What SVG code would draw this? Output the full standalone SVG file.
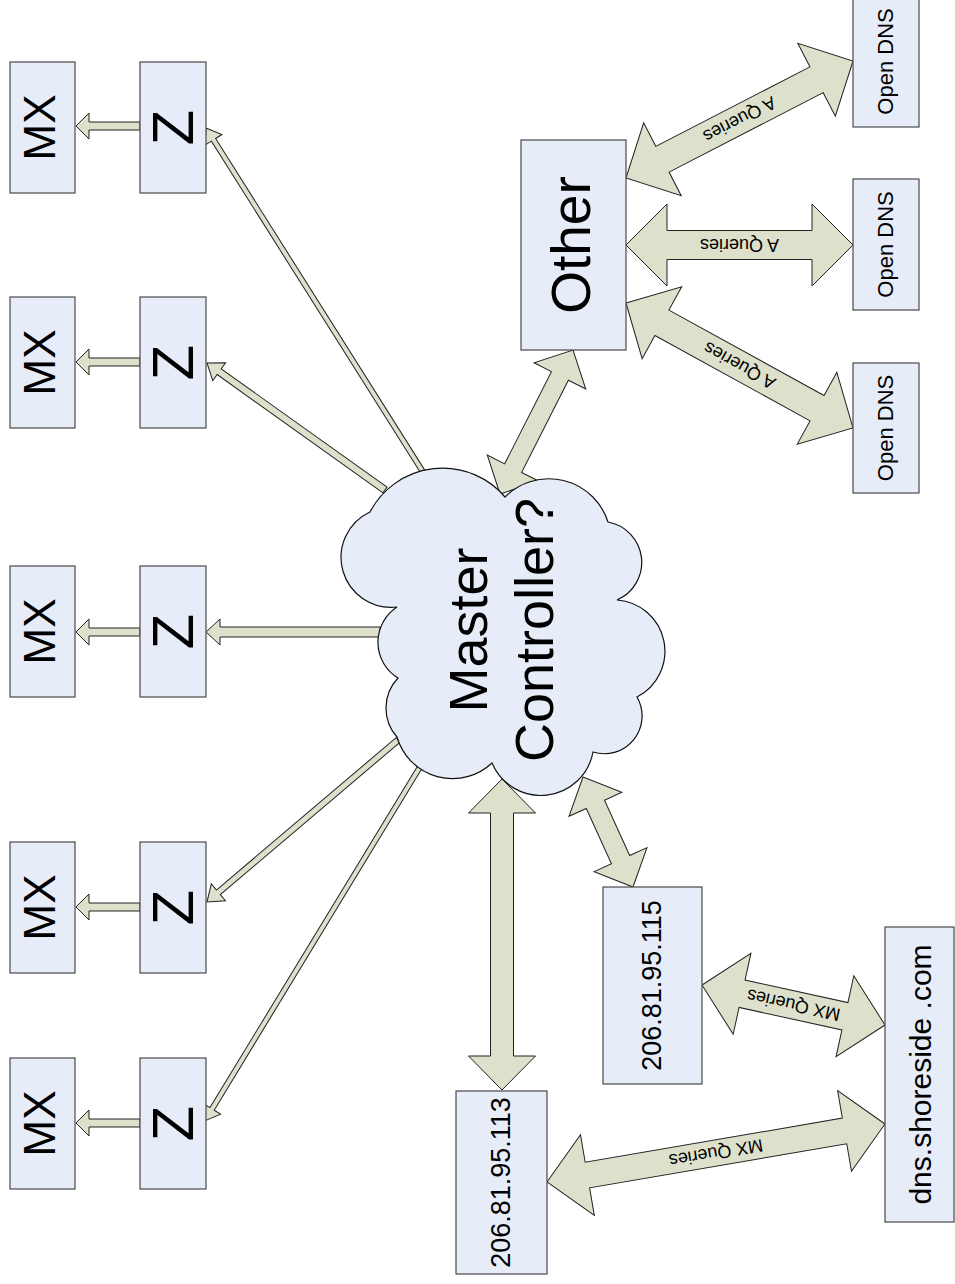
<svg xmlns="http://www.w3.org/2000/svg" xmlns:xlink="http://www.w3.org/1999/xlink" width="955" height="1284" viewBox="0 0 955 1284">
<style>
.box{fill:#e6ecf8;stroke:#4a4a4a;stroke-width:1.2}
.cloud{fill:#e6ecf8;stroke:#111;stroke-width:1.2}
.arr{fill:#dde0cb;stroke:#222;stroke-width:1}
text{font-family:"Liberation Sans",Arial,sans-serif;fill:#000}
.lbl{font-size:18px;text-anchor:middle}
.mid{text-anchor:middle}
</style>
<defs>
<polygon id="mxarrow" class="arr" points="0,-4 51,-4 51,-13 64,0 51,13 51,4 0,4"/>
</defs>
<rect width="955" height="1284" fill="#fff"/>
<g id="connectors">
<use xlink:href="#mxarrow" href="#mxarrow" transform="translate(140,126) rotate(180)"/>
<use xlink:href="#mxarrow" href="#mxarrow" transform="translate(140,362) rotate(180)"/>
<use xlink:href="#mxarrow" href="#mxarrow" transform="translate(140,632) rotate(180)"/>
<use xlink:href="#mxarrow" href="#mxarrow" transform="translate(140,907) rotate(180)"/>
<use xlink:href="#mxarrow" href="#mxarrow" transform="translate(140,1123) rotate(180)"/>
<polygon class="arr" transform="translate(423,472) rotate(-122.24)" points="0,-2.5 392.7,-2.5 392.7,-10 406.7,0 392.7,10 392.7,2.5 0,2.5"/>
<polygon class="arr" transform="translate(385,490) rotate(-144.5)" points="0,-3.5 203.7,-3.5 203.7,-11 218.7,0 203.7,11 203.7,3.5 0,3.5"/>
<polygon class="arr" transform="translate(380,632) rotate(180)" points="0,-5 160,-5 160,-13 174,0 160,13 160,5 0,5"/>
<polygon class="arr" transform="translate(398,740) rotate(139.7)" points="0,-3 235.5,-3 235.5,-11 250.5,0 235.5,11 235.5,3 0,3"/>
<polygon class="arr" transform="translate(423,762) rotate(121.3)" points="0,-2.5 406,-2.5 406,-10 420,0 406,10 406,2.5 0,2.5"/>
<polygon class="arr" transform="translate(500,494) rotate(-63.1)" points="0,0 29,-29 29,-9.5 132.4,-9.5 132.4,-29 161.4,0 132.4,29 132.4,9.5 29,9.5 29,29"/>
<polygon class="arr" transform="translate(502,779) rotate(90)" points="0,0 34,-33.5 34,-11.5 277,-11.5 277,-33.5 311,0 277,33.5 277,11.5 34,11.5 34,33.5"/>
<polygon class="arr" transform="translate(583,777) rotate(65.56)" points="0,0 30,-29 30,-10 90.8,-10 90.8,-29 120.8,0 90.8,29 90.8,10 30,10 30,29"/>
<g transform="translate(626,178) rotate(-27.27)">
<polygon class="arr" points="0,0 41,-41 41,-14.5 214.4,-14.5 214.4,-41 255.4,0 214.4,41 214.4,14.5 41,14.5 41,41"/>
<text class="lbl" x="127.7" y="6" transform="rotate(180 127.7 0)">A Queries</text>
</g>
<g transform="translate(626,245)">
<polygon class="arr" points="0,0 41,-41 41,-14.5 186,-14.5 186,-41 227,0 186,41 186,14.5 41,14.5 41,41"/>
<text class="lbl" x="113.5" y="6" transform="rotate(180 113.5 0)">A Queries</text>
</g>
<g transform="translate(626,303) rotate(28.84)">
<polygon class="arr" points="0,0 41,-41 41,-14.5 218.1,-14.5 218.1,-41 259.1,0 218.1,41 218.1,14.5 41,14.5 41,41"/>
<text class="lbl" x="129.55" y="6" transform="rotate(180 129.55 0)">A Queries</text>
</g>
<g transform="translate(702,985) rotate(12.33)">
<polygon class="arr" points="0,0 41,-41.5 41,-14 146.3,-14 146.3,-41.5 187.3,0 146.3,41.5 146.3,14 41,14 41,41.5"/>
<text class="lbl" x="93.65" y="6" transform="rotate(180 93.65 0)">MX Queries</text>
</g>
<g transform="translate(547,1182) rotate(-9.74)">
<polygon class="arr" points="0,0 41,-41 41,-13 301.9,-13 301.9,-41 342.9,0 301.9,41 301.9,13 41,13 41,41"/>
<text class="lbl" x="171.45" y="6" transform="rotate(180 171.45 0)">MX Queries</text>
</g>
</g>
<g id="mx1"><rect class="box" x="10" y="62" width="65" height="131"/><text class="mid" font-size="44" transform="translate(55,127.5) rotate(-90)">MX</text></g>
<g id="mx2"><rect class="box" x="10" y="297" width="65" height="131"/><text class="mid" font-size="44" transform="translate(55,362.5) rotate(-90)">MX</text></g>
<g id="mx3"><rect class="box" x="10" y="566" width="65" height="131"/><text class="mid" font-size="44" transform="translate(55,631.5) rotate(-90)">MX</text></g>
<g id="mx4"><rect class="box" x="10" y="842" width="65" height="131"/><text class="mid" font-size="44" transform="translate(55,907.5) rotate(-90)">MX</text></g>
<g id="mx5"><rect class="box" x="10" y="1058" width="65" height="131"/><text class="mid" font-size="44" transform="translate(55,1123.5) rotate(-90)">MX</text></g>
<g id="z1"><rect class="box" x="140" y="62" width="66" height="131"/><text class="mid" font-size="58" transform="translate(193,127.5) rotate(-90)">Z</text></g>
<g id="z2"><rect class="box" x="140" y="297" width="66" height="131"/><text class="mid" font-size="58" transform="translate(193,362.5) rotate(-90)">Z</text></g>
<g id="z3"><rect class="box" x="140" y="566" width="66" height="131"/><text class="mid" font-size="58" transform="translate(193,631.5) rotate(-90)">Z</text></g>
<g id="z4"><rect class="box" x="140" y="842" width="66" height="131"/><text class="mid" font-size="58" transform="translate(193,907.5) rotate(-90)">Z</text></g>
<g id="z5"><rect class="box" x="140" y="1058" width="66" height="131"/><text class="mid" font-size="58" transform="translate(193,1123.5) rotate(-90)">Z</text></g>
<g id="master">
<path class="cloud" d="M505,497 A62,62 0 0 1 608,522 A41,41 0 0 1 617,600 A51.4,51.4 0 0 1 637,697 A37.8,37.8 0 0 1 593,752 A53,53 0 0 1 492,763 A57.8,57.8 0 0 1 397,737 A43.6,43.6 0 0 1 398,678 A42,42 0 0 1 397,607 A50,50 0 0 1 370,512 A82,82 0 0 1 505,497 Z"/>
<text class="mid" font-size="54" transform="translate(487,630) rotate(-90)">Master</text>
<text class="mid" font-size="54" transform="translate(553,630) rotate(-90)">Controller?</text>
</g>
<g id="other"><rect class="box" x="521" y="140" width="105" height="210"/><text class="mid" font-size="55" transform="translate(590,245) rotate(-90)">Other</text></g>
<g id="dns1"><rect class="box" x="853" y="-4" width="66" height="131"/><text class="mid" font-size="22" transform="translate(893,61.5) rotate(-90)">Open DNS</text></g>
<g id="dns2"><rect class="box" x="853" y="179" width="66" height="131"/><text class="mid" font-size="22" transform="translate(893,244.5) rotate(-90)">Open DNS</text></g>
<g id="dns3"><rect class="box" x="853" y="363" width="66" height="130"/><text class="mid" font-size="22" transform="translate(893,428) rotate(-90)">Open DNS</text></g>
<g id="ip113"><rect class="box" x="456" y="1091" width="91" height="183"/><text class="mid" font-size="27" transform="translate(510,1182.5) rotate(-90)">206.81.95.113</text></g>
<g id="ip115"><rect class="box" x="603" y="887" width="99" height="197"/><text class="mid" font-size="27" transform="translate(661,985.5) rotate(-90)">206.81.95.115</text></g>
<g id="shoreside"><rect class="box" x="885" y="927" width="69" height="295"/><text class="mid" font-size="30" transform="translate(931,1074.5) rotate(-90)">dns.shoreside .com</text></g>
</svg>
